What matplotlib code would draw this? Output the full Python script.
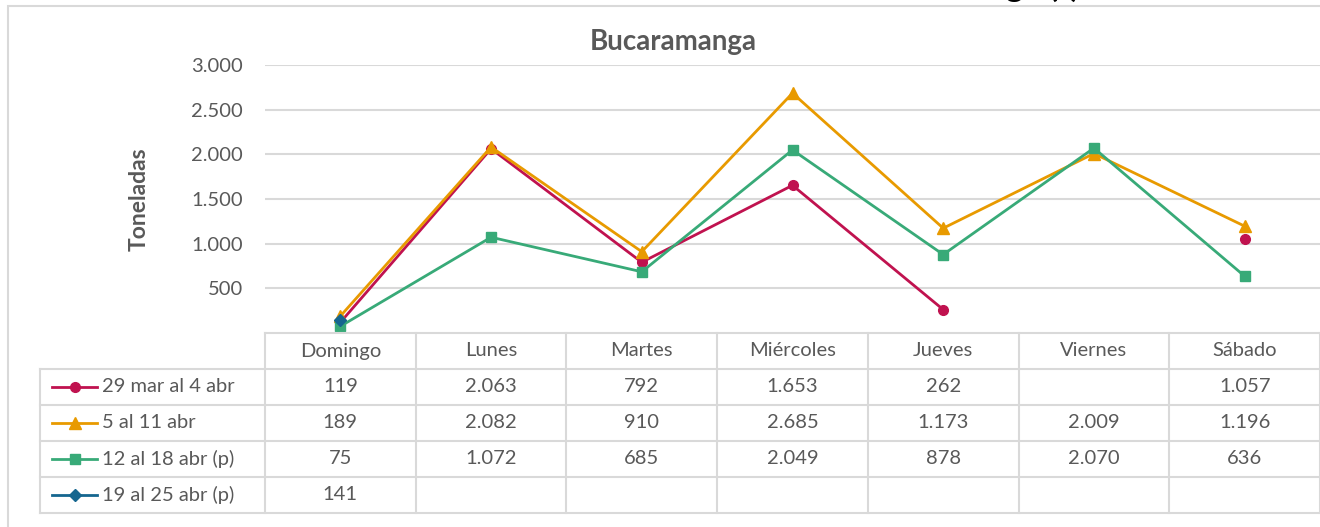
import numpy as np
import matplotlib.pyplot as plt
from matplotlib.patches import Rectangle

plt.rcParams['font.family'] = ['Lato', 'DejaVu Sans']

days = ['Domingo', 'Lunes', 'Martes', 'Miércoles', 'Jueves', 'Viernes', 'Sábado']
series_names = ['29 mar al 4 abr', '5 al 11 abr', '12 al 18 abr (p)', '19 al 25 abr (p)']
s1 = [119, 2063, 792, 1653, 262, np.nan, 1057]
s2 = [189, 2082, 910, 2685, 1173, 2009, 1196]
s3 = [75, 1072, 685, 2049, 878, 2070, 636]
s4 = [141, np.nan, np.nan, np.nan, np.nan, np.nan, np.nan]
yticks = [500, 1000, 1500, 2000, 2500, 3000]

all_series = [s1, s2, s3, s4]
colors = ['#C0124F', '#E89A00', '#38AA78', '#15668F']
markers = ['o', '^', 's', 'D']
msizes = [7, 8, 7, 6.5]
gray = '#595959'
grid = '#D9D9D9'
fs = 14.5

W, H = 1320, 527
fig = plt.figure(figsize=(W / 100, H / 100), dpi=100)

def fx(px):
    return px / W

def fy(py):
    return 1 - py / H

def fmt(v):
    return f'{int(v):,}'.replace(',', '.')

# outer chart border
fig.patches.append(Rectangle((fx(8), fy(540)), 1.2, fy(6) - fy(540), transform=fig.transFigure,
                             fill=False, ec=grid, lw=1.5))
# cut off heading above the chart
fig.text(fx(1080), fy(-3), 'Bucaramanga (t)', ha='right', va='baseline',
         fontsize=24, fontweight='bold', color='black')
fig.text(fx(673), fy(42), 'Bucaramanga', ha='center', va='center',
         fontsize=20, fontweight='bold', color=gray)

x = np.arange(len(days))

ax = fig.add_axes([fx(265), fy(333), fx(1320) - fx(265), fy(65) - fy(333)])
ax.set_xlim(-0.5, len(days) - 0.5)
ax.set_ylim(0, 3000)
ax.set_yticks(yticks)
ax.set_yticklabels([fmt(v) for v in yticks])
ax.tick_params(axis='y', length=0, labelsize=fs, labelcolor=gray, pad=16)
ax.set_xticks([])
for sp in ax.spines.values():
    sp.set_visible(False)
ax.grid(axis='y', color=grid, lw=1.5)
ax.set_axisbelow(True)
ax.set_ylabel('Toneladas', fontsize=16.5, fontweight='bold', color=gray, labelpad=30)

for vals, c, m, ms in zip(all_series, colors, markers, msizes):
    ax.plot(x, vals, color=c, lw=2, marker=m, ms=ms, clip_on=False)

# data table
left_px = 40
col_w = (1320 - 265) / len(days)
tax = fig.add_axes([fx(left_px), fy(513), 1 - fx(left_px), fy(333) - fy(513)])
xl = -0.5 - (265 - left_px) / col_w
xr = len(days) - 0.5
tax.set_xlim(xl, xr)
tax.set_ylim(5, 0)
tax.axis('off')
lk = dict(color=grid, lw=1.5, solid_capstyle='projecting', clip_on=False)
tax.plot([-0.5, xr], [0, 0], **lk)
for r in range(1, 6):
    tax.plot([xl, xr], [r, r], **lk)
tax.plot([xl, xl], [1, 5], **lk)
for c in range(len(days) + 1):
    tax.plot([c - 0.5, c - 0.5], [0, 5], **lk)

for i, d in enumerate(days):
    tax.text(i, 0.5, d, ha='center', va='center', fontsize=fs, color=gray)

for r, (name, vals, c, m, ms) in enumerate(zip(series_names, all_series, colors, markers, msizes)):
    yc = r + 1.5
    tax.plot([xl + 0.08, xl + 0.38], [yc, yc], color=c, lw=2)
    tax.plot([xl + 0.23], [yc], marker=m, color=c, ms=ms)
    tax.text(xl + 0.41, yc, name, ha='left', va='center', fontsize=fs, color=gray)
    for i, v in enumerate(vals):
        if not np.isnan(v):
            tax.text(i, yc, fmt(v), ha='center', va='center', fontsize=fs, color=gray)

fig.savefig('out.png', dpi=100)
